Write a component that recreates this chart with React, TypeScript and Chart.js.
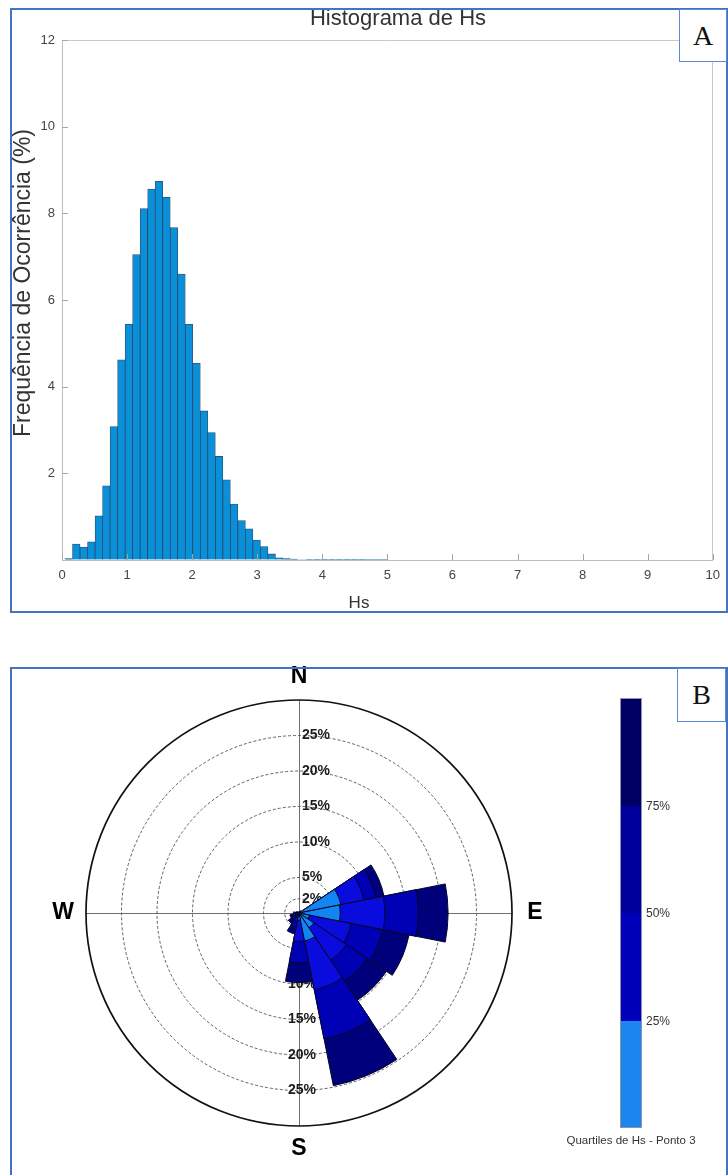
import React, { useEffect, useRef } from "react";
import { Chart, registerables } from "chart.js";

Chart.register(...registerables);

const SANS = '"Liberation Sans", Arial, Helvetica, sans-serif';
const SERIF = '"Liberation Serif", "Times New Roman", serif';

// ---------------- Panel A : histogram of Hs ----------------
const HS_BIN_START = 0.046;
const HS_BIN_WIDTH = 0.1155;
const hsFrequency = [
  0.03, 0.37, 0.3, 0.42, 1.02, 1.71, 3.08, 4.62, 5.44, 7.05, 8.11, 8.56, 8.74, 8.37,
  7.67, 6.6, 5.44, 4.54, 3.44, 2.94, 2.39, 1.85, 1.29, 0.91, 0.72, 0.46, 0.31, 0.14,
  0.05, 0.03, 0.02, 0.012, 0.01, 0.008, 0.006, 0.005, 0.004, 0.004, 0.003, 0.003,
  0.002, 0.002, 0.002,
];
const hsTicks = [0, 1, 2, 3, 4, 5, 6, 7, 8, 9, 10];
const freqTicks = [2, 4, 6, 8, 10, 12];
const histTitle = "Histograma de Hs";
const histXLabel = "Hs";
const histYLabel = "Frequência de Ocorrência (%)";

// ---------------- Panel B : wind rose (quartiles of Hs) ----------------
const directions = ["N", "NNE", "NE", "ENE", "E", "ESE", "SE", "SSE", "S", "SSW", "SW", "WSW", "W", "WNW", "NW", "NNW"];
const quartile1 = [0.05, 0.05, 0.1, 6.0, 5.8, 1.5, 2.5, 4.0, 1.0, 0.3, 0.2, 0.1, 0.1, 0.05, 0.05, 0.05];
const quartile2 = [0.05, 0.05, 0.1, 3.3, 6.3, 6.0, 5.5, 7.0, 3.0, 0.9, 0.5, 0.4, 0.2, 0.1, 0.05, 0.05];
const quartile3 = [0.03, 0.05, 0.1, 1.7, 4.7, 4.5, 3.5, 7.1, 3.0, 0.8, 0.5, 0.4, 0.2, 0.1, 0.05, 0.03];
const quartile4 = [0.02, 0.05, 0.1, 1.2, 4.2, 3.8, 3.3, 6.7, 2.8, 1.0, 0.6, 0.4, 0.3, 0.15, 0.05, 0.02];
const ringValues = [2, 5, 10, 15, 20, 25];
const ROSE_MAX = 30;
const cardinalLabels = ["N", "E", "S", "W"];
const quartileColors = ["#1186f2", "#0a0cde", "#0000b4", "#00007a"];
const colorbarColors = ["#1a86ee", "#0000b8", "#00009c", "#000064"];
const colorbarLabels = ["25%", "50%", "75%"];
const colorbarCaption = "Quartiles de Hs - Ponto 3";

const histFrame = {
  id: "histFrame",
  afterDraw(chart: any) {
    const { ctx, chartArea: a, scales } = chart;
    const x = scales.x;
    const y = scales.y;
    ctx.save();
    ctx.strokeStyle = "#c8c8c8";
    ctx.lineWidth = 1;
    ctx.beginPath();
    ctx.moveTo(a.left, Math.round(a.top) + 0.5);
    ctx.lineTo(a.right, Math.round(a.top) + 0.5);
    ctx.moveTo(Math.round(a.right) - 0.5, a.top);
    ctx.lineTo(Math.round(a.right) - 0.5, a.bottom);
    ctx.stroke();
    ctx.strokeStyle = "#a6a6a6";
    ctx.beginPath();
    for (const v of freqTicks) {
      const py = Math.round(y.getPixelForValue(v)) + 0.5;
      ctx.moveTo(a.left, py);
      ctx.lineTo(a.left + 6, py);
    }
    for (const v of hsTicks) {
      const px = Math.round(x.getPixelForValue(v)) + 0.5;
      ctx.moveTo(px, a.bottom);
      ctx.lineTo(px, a.bottom - 6);
    }
    ctx.stroke();
    ctx.restore();
  },
};

const roseFrame = {
  id: "roseFrame",
  beforeDatasetsDraw(chart: any) {
    const r = chart.scales.r;
    const ctx = chart.ctx;
    const cx = r.xCenter;
    const cy = r.yCenter;
    const R = r.getDistanceFromCenterForValue(ROSE_MAX);
    ctx.save();
    ctx.strokeStyle = "#707070";
    ctx.lineWidth = 1;
    ctx.beginPath();
    ctx.moveTo(cx - R, cy + 0.5);
    ctx.lineTo(cx + R, cy + 0.5);
    ctx.moveTo(cx + 0.5, cy - R);
    ctx.lineTo(cx + 0.5, cy + R);
    ctx.stroke();
    ctx.setLineDash([3, 2]);
    ctx.strokeStyle = "#505050";
    ctx.lineWidth = 0.9;
    for (const v of ringValues) {
      ctx.beginPath();
      ctx.arc(cx, cy, r.getDistanceFromCenterForValue(v), 0, Math.PI * 2);
      ctx.stroke();
    }
    ctx.setLineDash([]);
    ctx.strokeStyle = "#111";
    ctx.lineWidth = 1.7;
    ctx.beginPath();
    ctx.arc(cx, cy, R, 0, Math.PI * 2);
    ctx.stroke();

    ctx.font = `bold 14px ${SANS}`;
    ctx.fillStyle = "#1c1c1c";
    ctx.textBaseline = "middle";
    ctx.textAlign = "left";
    for (const v of ringValues) {
      const d = r.getDistanceFromCenterForValue(v);
      ctx.fillText(`${v}%`, cx + 3, cy - d);
      ctx.fillText(`${v}%`, cx - (v >= 10 ? 11 : 7), cy + d);
    }
    ctx.font = `bold 23px ${SANS}`;
    ctx.fillStyle = "#000";
    ctx.textAlign = "center";
    const off = 23;
    const pos: Record<string, [number, number]> = {
      N: [cx, cy - R - off],
      E: [cx + R + off, cy],
      S: [cx, cy + R + off],
      W: [cx - R - off, cy],
    };
    for (const c of cardinalLabels) ctx.fillText(c, pos[c][0], pos[c][1]);
    ctx.restore();
  },
};

export default function App() {
  const histRef = useRef<HTMLCanvasElement | null>(null);
  const roseRef = useRef<HTMLCanvasElement | null>(null);

  useEffect(() => {
    const histData = hsFrequency.map((f, i) => ({ x: HS_BIN_START + (i + 0.5) * HS_BIN_WIDTH, y: f }));
    const hist = new Chart(histRef.current as HTMLCanvasElement, {
      type: "bar",
      data: {
        datasets: [
          {
            data: histData as any,
            backgroundColor: "#0a8fd9",
            borderColor: "rgba(12,50,90,0.85)",
            borderWidth: 0.8,
            barPercentage: 1,
            categoryPercentage: 1,
          },
        ],
      },
      options: {
        responsive: false,
        animation: false,
        layout: { padding: { left: 0, top: 40, right: 8, bottom: 0 } },
        plugins: { legend: { display: false }, tooltip: { enabled: false }, title: { display: false } },
        scales: {
          x: {
            type: "linear",
            min: 0,
            max: 10,
            offset: false,
            ticks: { stepSize: 1, color: "#444", font: { size: 13, family: SANS }, padding: 8, maxRotation: 0, autoSkip: false },
            grid: { display: true, drawOnChartArea: false, drawTicks: false },
            border: { display: true, color: "#bdbdbd" },
            afterFit: (s: any) => {
              s.height = 55;
            },
          },
          y: {
            type: "linear",
            min: 0,
            max: 12,
            ticks: {
              stepSize: 2,
              color: "#444",
              font: { size: 13, family: SANS },
              padding: 7,
              callback: (v: any) => (v === 0 ? "" : String(v)),
            },
            grid: { display: true, drawOnChartArea: false, drawTicks: false },
            border: { display: true, color: "#bdbdbd" },
            afterFit: (s: any) => {
              s.width = 62;
            },
          },
        },
      },
      plugins: [histFrame],
    });

    const cum: number[][] = [];
    const qs = [quartile1, quartile2, quartile3, quartile4];
    qs.forEach((q, k) => {
      cum.push(q.map((v, i) => (k === 0 ? v : cum[k - 1][i] + v)));
    });
    const rose = new Chart(roseRef.current as HTMLCanvasElement, {
      type: "polarArea",
      data: {
        labels: directions,
        datasets: cum.map((arr, k) => ({
          data: arr,
          backgroundColor: quartileColors[k],
          borderColor: "#06062a",
          borderWidth: 1,
        })),
      },
      options: {
        responsive: false,
        animation: false,
        layout: { padding: { left: 86, top: 60, right: 216, bottom: 49 } },
        plugins: { legend: { display: false }, tooltip: { enabled: false } },
        scales: {
          r: {
            min: 0,
            max: ROSE_MAX,
            startAngle: -11.25,
            ticks: { display: false },
            grid: { display: false },
            angleLines: { display: false },
            pointLabels: { display: false },
          },
        },
      },
      plugins: [roseFrame],
    });

    return () => {
      hist.destroy();
      rose.destroy();
    };
  }, []);

  const abs = (o: any) => ({ position: "absolute" as const, ...o });
  const segH = 430 / 4;

  return (
    <div style={abs({ left: 0, top: 0, width: 728, height: 1175, overflow: "hidden", background: "#fff", fontFamily: SANS })}>
      <canvas ref={histRef} width={728} height={615} style={abs({ left: 0, top: 0 })} />
      <canvas ref={roseRef} width={728} height={535} style={abs({ left: 0, top: 640 })} />

      {/* Panel A texts */}
      <div style={abs({ left: 298, top: 4, width: 200, textAlign: "center", fontSize: 22, color: "#333", lineHeight: "28px" })}>{histTitle}</div>
      <div style={abs({ left: 359 - 40, top: 592, width: 80, textAlign: "center", fontSize: 17, color: "#333", lineHeight: "22px" })}>{histXLabel}</div>
      <div
        style={abs({
          left: 22 - 170,
          top: 283 - 14,
          width: 340,
          height: 28,
          lineHeight: "28px",
          textAlign: "center",
          fontSize: 23,
          color: "#333",
          transform: "rotate(-90deg)",
          whiteSpace: "nowrap",
        })}
      >
        {histYLabel}
      </div>

      {/* Colorbar */}
      {colorbarColors
        .slice()
        .reverse()
        .map((c, i) => (
          <div key={c} style={abs({ left: 620, top: 698 + i * segH, width: 22, height: segH, background: c })} />
        ))}
      <div style={abs({ left: 620, top: 698, width: 22, height: 430, boxSizing: "border-box", border: "1px solid #9090b0" })} />
      {colorbarLabels.map((l, i) => (
        <div key={l} style={abs({ left: 646, top: 698 + (3 - i) * segH - 8, fontSize: 12, color: "#333", lineHeight: "16px" })}>
          {l}
        </div>
      ))}
      <div style={abs({ left: 541, top: 1132, width: 180, textAlign: "center", fontSize: 11.5, color: "#333", lineHeight: "16px" })}>
        {colorbarCaption}
      </div>

      {/* Panel frames */}
      <div style={abs({ left: 10, top: 8, width: 718, height: 605, boxSizing: "border-box", border: "2px solid #4472c4" })} />
      <div style={abs({ left: 10, top: 667, width: 718, height: 540, boxSizing: "border-box", border: "2px solid #4472c4" })} />
      <div
        style={abs({
          left: 679,
          top: 9,
          width: 48,
          height: 53,
          boxSizing: "border-box",
          border: "1.5px solid #5b8bd4",
          background: "#fff",
          fontFamily: SERIF,
          fontSize: 28,
          textAlign: "center",
          lineHeight: "52px",
          color: "#111",
        })}
      >
        A
      </div>
      <div
        style={abs({
          left: 677,
          top: 668,
          width: 49,
          height: 54,
          boxSizing: "border-box",
          border: "1.5px solid #5b8bd4",
          background: "#fff",
          fontFamily: SERIF,
          fontSize: 28,
          textAlign: "center",
          lineHeight: "52px",
          color: "#111",
        })}
      >
        B
      </div>
    </div>
  );
}
